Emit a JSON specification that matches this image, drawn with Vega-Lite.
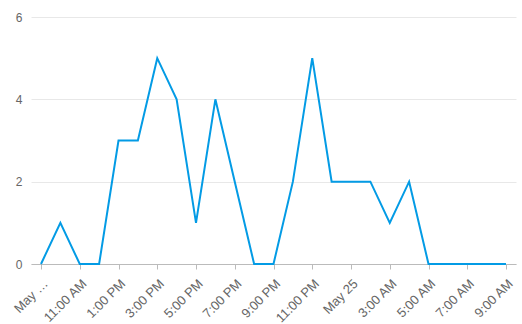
{
  "$schema": "https://vega.github.io/schema/vega-lite/v6.json",
  "width": 485,
  "height": 247,
  "autosize": "none",
  "padding": {"left": 31, "top": 17, "right": 6, "bottom": 60},
  "background": "white",
  "config": {
    "view": {"stroke": null},
    "font": "Liberation Sans",
    "axis": {"labelFont": "Liberation Sans", "labelFontSize": 12, "labelColor": "#666666"}
  },
  "data": {
    "values": [
      {"time": "2024-05-24T09:00:00Z", "count": 0},
      {"time": "2024-05-24T10:00:00Z", "count": 1},
      {"time": "2024-05-24T11:00:00Z", "count": 0},
      {"time": "2024-05-24T12:00:00Z", "count": 0},
      {"time": "2024-05-24T13:00:00Z", "count": 3},
      {"time": "2024-05-24T14:00:00Z", "count": 3},
      {"time": "2024-05-24T15:00:00Z", "count": 5},
      {"time": "2024-05-24T16:00:00Z", "count": 4},
      {"time": "2024-05-24T17:00:00Z", "count": 1},
      {"time": "2024-05-24T18:00:00Z", "count": 4},
      {"time": "2024-05-24T19:00:00Z", "count": 2},
      {"time": "2024-05-24T20:00:00Z", "count": 0},
      {"time": "2024-05-24T21:00:00Z", "count": 0},
      {"time": "2024-05-24T22:00:00Z", "count": 2},
      {"time": "2024-05-24T23:00:00Z", "count": 5},
      {"time": "2024-05-25T00:00:00Z", "count": 2},
      {"time": "2024-05-25T01:00:00Z", "count": 2},
      {"time": "2024-05-25T02:00:00Z", "count": 2},
      {"time": "2024-05-25T03:00:00Z", "count": 1},
      {"time": "2024-05-25T04:00:00Z", "count": 2},
      {"time": "2024-05-25T05:00:00Z", "count": 0},
      {"time": "2024-05-25T06:00:00Z", "count": 0},
      {"time": "2024-05-25T07:00:00Z", "count": 0},
      {"time": "2024-05-25T08:00:00Z", "count": 0},
      {"time": "2024-05-25T09:00:00Z", "count": 0}
    ]
  },
  "mark": {"type": "line", "color": "#039be5", "strokeWidth": 2, "interpolate": "linear"},
  "encoding": {
    "x": {
      "field": "time",
      "type": "temporal",
      "title": null,
      "scale": {"type": "utc", "padding": 10, "nice": false},
      "axis": {
        "values": [
          {"year": 2024, "month": 5, "date": 24, "hours": 9, "utc": true},
          {"year": 2024, "month": 5, "date": 24, "hours": 11, "utc": true},
          {"year": 2024, "month": 5, "date": 24, "hours": 13, "utc": true},
          {"year": 2024, "month": 5, "date": 24, "hours": 15, "utc": true},
          {"year": 2024, "month": 5, "date": 24, "hours": 17, "utc": true},
          {"year": 2024, "month": 5, "date": 24, "hours": 19, "utc": true},
          {"year": 2024, "month": 5, "date": 24, "hours": 21, "utc": true},
          {"year": 2024, "month": 5, "date": 24, "hours": 23, "utc": true},
          {"year": 2024, "month": 5, "date": 25, "hours": 1, "utc": true},
          {"year": 2024, "month": 5, "date": 25, "hours": 3, "utc": true},
          {"year": 2024, "month": 5, "date": 25, "hours": 5, "utc": true},
          {"year": 2024, "month": 5, "date": 25, "hours": 7, "utc": true},
          {"year": 2024, "month": 5, "date": 25, "hours": 9, "utc": true}
        ],
        "labelExpr": "(utcdate(datum.value) == 24 && utchours(datum.value) == 9) ? 'May …' : (utchours(datum.value) == 1 ? 'May 25' : utcFormat(datum.value, '%-I:%M %p'))",
        "labelAngle": -45,
        "labelFontSize": 13,
        "labelOverlap": false,
        "labelFlush": false,
        "grid": false,
        "domainColor": "#bbbbbb",
        "tickColor": "#bbbbbb",
        "tickSize": 5,
        "labelPadding": 8
      }
    },
    "y": {
      "field": "count",
      "type": "quantitative",
      "title": null,
      "scale": {"domain": [0, 6], "nice": false},
      "axis": {
        "values": [0, 2, 4, 6],
        "domain": false,
        "ticks": false,
        "gridColor": "#e8e8e8",
        "labelPadding": 9
      }
    }
  }
}
